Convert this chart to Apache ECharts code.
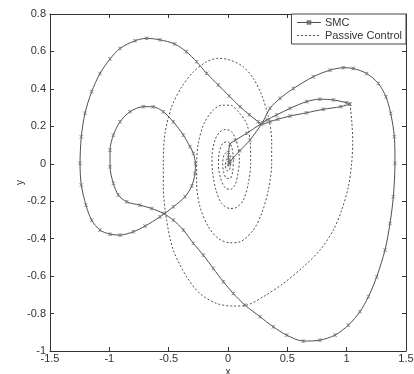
<!DOCTYPE html>
<html>
<head>
<meta charset="utf-8">
<title>Phase portrait: SMC vs Passive Control</title>
<script src="https://cdn.jsdelivr.net/npm/echarts@6/dist/echarts.min.js"></script>
<style>
  html, body { margin: 0; padding: 0; background: #fff; }
  #chart { width: 414px; height: 374px; }
</style>
</head>
<body>
<div id="chart"></div>
<script>
// Trajectory under sliding mode control (x, y pairs along the path)
const smcX = [
  1.028, 0.95, 0.803, 0.66, 0.522, 0.42, 0.354, 0.29,
  0.253, 0.18, 0.101, 0.01, -0.082, -0.18, -0.264, -0.35, -0.45, -0.573, -0.685, -0.784,
  -0.91, -0.994, -1.079, -1.149, -1.205, -1.236, -1.247, -1.236, -1.197, -1.149,
  -1.079, -0.994, -0.91, -0.798, -0.699, -0.573, -0.461, -0.362, -0.306, -0.278,
  -0.275, -0.292, -0.32, -0.376, -0.461, -0.545, -0.629, -0.714, -0.826, -0.91,
  -0.966, -0.994, -0.994, -0.966, -0.924, -0.854, -0.742, -0.643, -0.545, -0.461,
  -0.376, -0.292, -0.208, -0.124, -0.039, 0.045, 0.143, 0.27, 0.382, 0.494,
  0.635, 0.775, 0.902, 1.014, 1.112, 1.183, 1.253, 1.323, 1.365, 1.393,
  1.407, 1.402, 1.371, 1.331, 1.267, 1.169, 1.056, 0.972, 0.86, 0.719,
  0.551, 0.438, 0.354, 0.29,
  0.185, 0.1, 0.045, 0.02, 0.01, 0.004, 0.012, 0.006, 0.003, 0.005, 0.017, 0.06, 0.157, 0.27,
  0.326, 0.41, 0.522, 0.663, 0.775, 0.888, 1.0, 1.028
];
const smcY = [
  0.319, 0.305, 0.291, 0.272, 0.255, 0.238, 0.225, 0.213,
  0.225, 0.262, 0.305, 0.362, 0.421, 0.483, 0.545, 0.598, 0.64, 0.662, 0.67, 0.657,
  0.616, 0.56, 0.482, 0.385, 0.27, 0.144, 0.002, -0.114, -0.221, -0.301,
  -0.354, -0.376, -0.381, -0.363, -0.333, -0.283, -0.23, -0.176, -0.119, -0.052,
  0.002, 0.055, 0.091, 0.153, 0.224, 0.278, 0.304, 0.305, 0.278, 0.224,
  0.153, 0.073, -0.016, -0.105, -0.167, -0.203, -0.221, -0.239, -0.265, -0.301,
  -0.354, -0.425, -0.488, -0.559, -0.63, -0.693, -0.755, -0.817, -0.871, -0.915,
  -0.947, -0.942, -0.915, -0.862, -0.79, -0.71, -0.604, -0.461, -0.319, -0.176,
  0.002, 0.144, 0.269, 0.358, 0.429, 0.482, 0.509, 0.513, 0.5, 0.465,
  0.402, 0.349, 0.296, 0.22,
  0.127, 0.07, 0.032, 0.012, 0.002, -0.006, 0.006, 0.018, 0.035, 0.06, 0.105, 0.125, 0.163, 0.21,
  0.234, 0.261, 0.296, 0.332, 0.345, 0.341, 0.326, 0.319
];

// Trajectory under passive control, spiralling into the origin
const passiveX = [
  1.028, 1.042, 1.051, 1.042, 1.014, 0.958, 0.888, 0.775, 0.635, 0.466,
  0.298, 0.157, 0.045, -0.096, -0.236, -0.348, -0.461, -0.517, -0.545, -0.545,
  -0.531, -0.475, -0.39, -0.292, -0.18, -0.081, 0.017, 0.129, 0.213, 0.284,
  0.34, 0.368, 0.368, 0.34, 0.284, 0.213, 0.101, 0.017, -0.081, -0.166,
  -0.236, -0.264, -0.264, -0.25, -0.202, -0.124, -0.053, 0.017, 0.087, 0.157,
  0.185, 0.191, 0.171, 0.129, 0.073, 0.017, -0.053, -0.101, -0.129, -0.135,
  -0.11, -0.067, -0.017, 0.031, 0.073, 0.096, 0.084, 0.059, 0.017, -0.025,
  -0.062, -0.081, -0.073, -0.045, -0.006, 0.031, 0.045, 0.039, 0.017, -0.011,
  -0.037, -0.045, -0.034, -0.006, 0.017, 0.022, 0.011, -0.011, -0.022, -0.011,
  0.003, 0.006, -0.003
];
const passiveY = [
  0.319, 0.233, 0.126, 0.002, -0.123, -0.247, -0.354, -0.461, -0.55, -0.639,
  -0.71, -0.755, -0.76, -0.746, -0.693, -0.604, -0.461, -0.301, -0.123, 0.002,
  0.162, 0.304, 0.411, 0.491, 0.545, 0.563, 0.554, 0.518, 0.456, 0.367,
  0.251, 0.126, 0.002, -0.141, -0.265, -0.354, -0.417, -0.422, -0.399, -0.336,
  -0.23, -0.105, 0.002, 0.109, 0.215, 0.287, 0.313, 0.313, 0.278, 0.215,
  0.126, 0.002, -0.105, -0.194, -0.233, -0.239, -0.212, -0.141, -0.052, 0.037,
  0.126, 0.171, 0.183, 0.171, 0.118, 0.02, -0.052, -0.114, -0.137, -0.128,
  -0.078, -0.007, 0.064, 0.109, 0.118, 0.091, 0.02, -0.043, -0.078, -0.078,
  -0.043, 0.002, 0.046, 0.064, 0.046, 0.002, -0.034, -0.037, -0.007, 0.023,
  0.02, 0.0, -0.009
];

const seriesNames = ['SMC', 'Passive Control'];

const pairs = (xs, ys) => xs.map((x, i) => [x, ys[i]]);

const FONT = 'Liberation Sans, Arial, sans-serif';
const INK = '#333';
const LINE = '#505050';
const CROSS = 'path://M0,0L10,10M10,0L0,10M5,0L5,10';

const axisCommon = {
  type: 'value',
  splitLine: { show: false },
  axisLine: { show: true, onZero: false, lineStyle: { color: INK, width: 1 } },
  axisTick: { show: true, inside: true, length: 4, lineStyle: { color: INK } }
};

const chart = echarts.init(document.getElementById('chart'), null, { renderer: 'canvas' });
chart.setOption({
  animation: false,
  backgroundColor: '#fff',
  grid: { left: 50, right: 8, top: 14, bottom: 23, outerBoundsMode: 'none', containLabel: false },
  legend: {
    data: [
      { name: seriesNames[0] },
      { name: seriesNames[1], itemStyle: { opacity: 0 } }
    ],
    orient: 'vertical',
    right: 8,
    top: 14,
    backgroundColor: '#fff',
    borderColor: '#444',
    borderWidth: 1,
    borderRadius: 0,
    padding: [3, 4, 3, 5],
    itemGap: 2,
    itemWidth: 24,
    itemHeight: 5,
    lineStyle: { width: 1 },
    textStyle: { fontFamily: FONT, fontSize: 11, color: INK, padding: [0, 0, 0, -1] }
  },
  xAxis: [
    Object.assign({}, axisCommon, {
      min: -1.5, max: 1.5, interval: 0.5, position: 'bottom',
      name: 'x', nameLocation: 'middle', nameGap: 16, nameMoveOverlap: false,
      nameTextStyle: { fontFamily: FONT, fontSize: 10, color: INK },
      axisLabel: { fontFamily: FONT, fontSize: 11, color: INK, margin: 2 }
    }),
    Object.assign({}, axisCommon, {
      min: -1.5, max: 1.5, interval: 0.5, position: 'top',
      axisLabel: { show: false }
    })
  ],
  yAxis: [
    Object.assign({}, axisCommon, {
      min: -1, max: 0.8, interval: 0.2, position: 'left',
      name: 'y', nameLocation: 'middle', nameGap: 25, nameRotate: 90, nameMoveOverlap: false,
      nameTextStyle: { fontFamily: FONT, fontSize: 10, color: INK },
      axisLabel: { fontFamily: FONT, fontSize: 11, color: INK, margin: 4 }
    }),
    Object.assign({}, axisCommon, {
      min: -1, max: 0.8, interval: 0.2, position: 'right',
      axisLabel: { show: false }
    })
  ],
  series: [
    {
      name: seriesNames[0],
      type: 'line',
      xAxisIndex: 0, yAxisIndex: 0,
      data: pairs(smcX, smcY),
      smooth: 0.3,
      symbol: CROSS,
      symbolSize: 3.5,
      showSymbol: true,
      lineStyle: { color: LINE, width: 1 },
      itemStyle: { color: '#777', borderColor: '#777', borderWidth: 0.8 },
      z: 3
    },
    {
      name: seriesNames[1],
      type: 'line',
      xAxisIndex: 0, yAxisIndex: 0,
      data: pairs(passiveX, passiveY),
      smooth: 0.3,
      symbol: 'none',
      lineStyle: { color: LINE, width: 1, type: [2, 2] },
      itemStyle: { color: LINE },
      z: 2
    }
  ]
});
</script>
</body>
</html>
